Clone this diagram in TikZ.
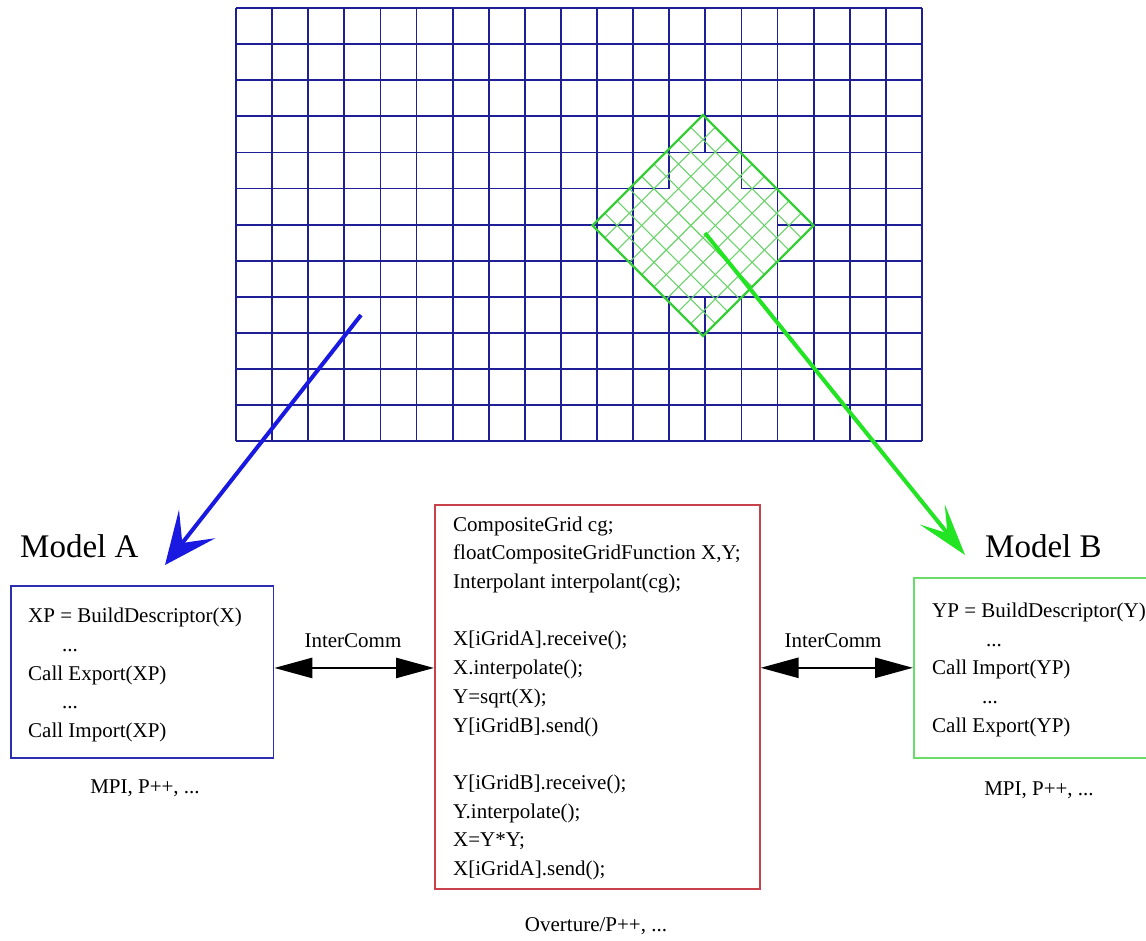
\documentclass[tikz,border=0pt]{standalone}
\usepackage{fontspec}
\setmainfont{Liberation Serif}
\usetikzlibrary{arrows.meta,calc}

\definecolor{gridblue}{RGB}{30,30,150}
\definecolor{boxblue}{RGB}{45,45,175}
\definecolor{arrowblue}{RGB}{25,25,225}
\definecolor{patchgreen}{RGB}{55,205,55}
\definecolor{hatchgreen}{RGB}{105,210,105}
\definecolor{arrowgreen}{RGB}{35,228,35}
\definecolor{boxgreen}{RGB}{105,220,105}
\definecolor{boxred}{RGB}{200,65,75}

\tikzset{
  codetext/.style={font={\fontsize{21}{28.7}\selectfont}, align=left, inner sep=0pt, anchor=north west},
  panel/.style={line width=1.6pt, anchor=north west, inner sep=0pt},
  widearrow/.style={line width=4pt, -{Stealth[length=52pt,width=46pt,inset=24pt]}},
  slimarrow/.style={line width=4pt, -{Stealth[length=52pt,width=32pt,inset=24pt]}},
  commarrow/.style={line width=2.6pt, {Triangle[length=38pt,width=20pt]}-{Triangle[length=38pt,width=20pt]}},
  gridline/.style={gridblue, line width=1.8pt},
  hatch/.style={hatchgreen, line width=1.1pt},
  patch/.style={patchgreen, line width=2.4pt, line join=miter},
  caption/.style={font={\fontsize{21}{25}\selectfont}, inner sep=0pt, anchor=base},
  modeltitle/.style={font={\fontsize{33}{40}\selectfont}, inner sep=0pt, anchor=base west},
}

\begin{document}
\begin{tikzpicture}[x=1pt, y=-1pt]
\fill[white] (0,0) rectangle (1146,940);
\useasboundingbox (0,0) rectangle (1146,940);
\clip (0,0) rectangle (1146,940);

% background mesh: 19 x 12 square cells with a hole cut under the patch
\begin{scope}[xshift=236pt, yshift=-8pt, x=36.1pt, y=-36.1pt, gridline]
  \foreach \i in {0,...,11,15,16,17,18,19}
    \draw (\i,0) -- (\i,12);
  \draw (12,0) -- (12,5) (12,8) -- (12,12);
  \draw (13,0) -- (13,4) (13,8) -- (13,12);
  \draw (14,0) -- (14,5) (14,8) -- (14,12);
  \foreach \j in {0,...,4,8,9,10,11,12}
    \draw (0,\j) -- (19,\j);
  \draw (0,5) -- (12,5) (14,5) -- (19,5);
  \draw (0,6) -- (11,6) (15,6) -- (19,6);
  \draw (0,7) -- (11,7) (15,7) -- (19,7);
\end{scope}

% rotated component patch
\coordinate (dT) at (703,115);
\coordinate (dR) at (813.5,225.5);
\coordinate (dB) at (703,336);
\coordinate (dL) at (592.5,225.5);
\foreach \k in {1,...,8} {
  \draw[hatch] ($(dT)!\k/9!(dL)$) -- ($(dR)!\k/9!(dB)$);
  \draw[hatch] ($(dT)!\k/9!(dR)$) -- ($(dL)!\k/9!(dB)$);
}
\draw[patch] (dT) -- (dR) -- (dB) -- (dL) -- cycle;

% titles
\node[modeltitle] (titleA) at (20,557) {Model A};
\node[modeltitle] (titleB) at (985,557) {Model B};

% panels
\node[panel, draw=boxblue, minimum width=262.7pt, minimum height=172.3pt] (boxA) at (10,585) {};
\node[panel, draw=boxred, minimum width=325pt, minimum height=384pt] (mid) at (434,504) {};
\node[panel, draw=boxgreen, minimum width=260pt, minimum height=180pt] (boxB) at (913,577) {};

\node[codetext] (codeA) at (28,602.5) {%
XP = BuildDescriptor(X)\strut\\
\hspace*{34pt}...\strut\\
Call Export(XP)\strut\\
\hspace*{34pt}...\strut\\
Call Import(XP)\strut};

\node[codetext] (codeB) at (932,597) {%
YP = BuildDescriptor(Y)\strut\\
\hspace*{54pt}...\strut\\
Call Import(YP)\strut\\
\hspace*{50pt}...\strut\\
Call Export(YP)\strut};

\node[codetext] (codeMid) at (453,510.8) {%
CompositeGrid cg;\strut\\
floatCompositeGridFunction X,Y;\strut\\
Interpolant interpolant(cg);\strut\\
\strut\\
X[iGridA].receive();\strut\\
X.interpolate();\strut\\
Y=sqrt(X);\strut\\
Y[iGridB].send()\strut\\
\strut\\
Y[iGridB].receive();\strut\\
Y.interpolate();\strut\\
X=Y*Y;\strut\\
X[iGridA].send();\strut};

% captions
\node[caption] (libA) at (145,793) {MPI, P++, ...};
\node[caption] (libB) at (1039,795) {MPI, P++, ...};
\node[caption] (libMid) at (596,931) {Overture/P++, ...};
\node[caption] (commL) at (353,647) {InterComm};
\node[caption] (commR) at (833,647) {InterComm};

% communication links
\draw[commarrow] ([yshift=4pt]boxA.east) -- ([yshift=4pt]boxA.east -| mid.west);
\draw[commarrow] (mid.east |- boxB.west) -- (boxB.west);

% grid-to-model arrows
\coordinate (srcA) at (361,315);
\coordinate (tipA) at (165,565);
\coordinate (srcB) at (705,233);
\coordinate (tipB) at (965,555);
\draw[widearrow, arrowblue] (srcA) -- (tipA);
\draw[slimarrow, arrowgreen] (srcB) -- (tipB);
\end{tikzpicture}
\end{document}
